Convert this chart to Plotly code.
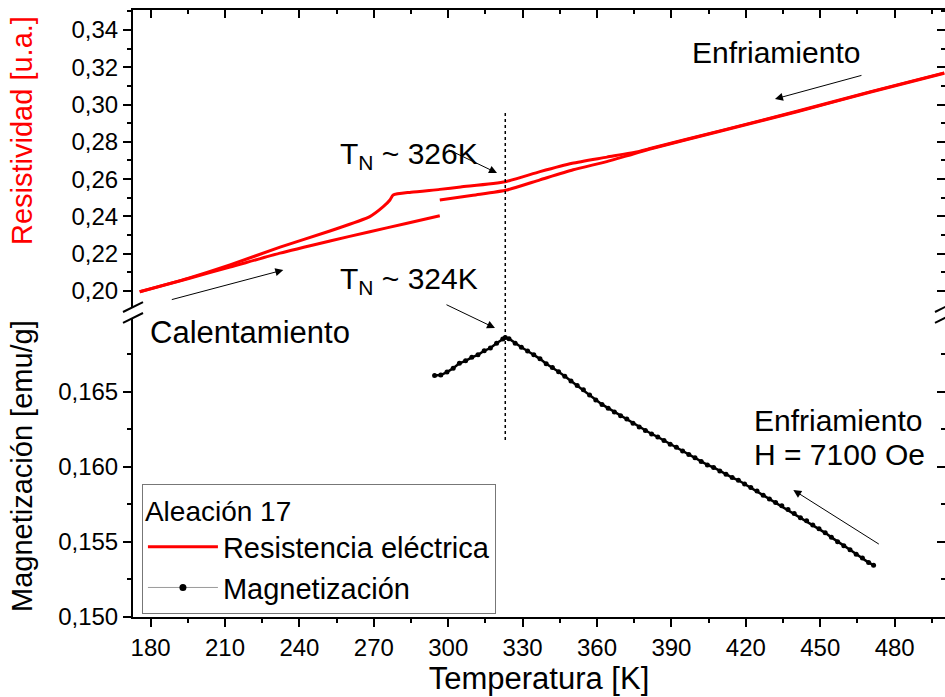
import plotly.graph_objects as go

# Resistivity, cooling run (high T -> low T)
T_cool = [500, 470, 441, 410, 381, 377, 364, 350, 337, 323, 305, 296.6, 285,
          277.8, 276.5, 273.8, 268.4, 252.3, 232.2, 212, 195, 175.6]
rho_cool = [0.3170, 0.3068, 0.2965, 0.2860, 0.2763, 0.2749, 0.2718, 0.2685,
            0.2640, 0.2586, 0.2558, 0.2545, 0.2530, 0.2515, 0.2488, 0.2452,
            0.2399, 0.2322, 0.2235, 0.2140, 0.2068, 0.1996]

# Resistivity, heating run: two segments separated by a small jump near 297 K
T_heat_a = [175.6, 195, 212, 232.2, 252.3, 268.4, 283, 296.6]
rho_heat_a = [0.1996, 0.2066, 0.2128, 0.2203, 0.2268, 0.2318, 0.2362, 0.2404]
T_heat_b = [296.6, 310, 323.7, 337, 350.4, 363.9, 372, 381, 410, 441, 470, 500]
rho_heat_b = [0.2488, 0.2514, 0.2542, 0.2596, 0.2650, 0.2694, 0.2725, 0.2760,
              0.2858, 0.2963, 0.3066, 0.3168]

# Magnetization on cooling, H = 7100 Oe
T_mag = [294.5, 297.0, 299.5, 302.0, 304.5, 307.0, 309.5, 312.0, 314.5, 317.0,
         319.5, 322.0, 323.0, 324.5, 327.0, 329.5, 332.0, 334.5, 337.0, 339.5,
         342.0, 344.5, 347.0, 349.5, 352.0, 354.5, 357.0, 359.5, 362.0, 364.5,
         367.0, 369.5, 372.0, 374.5, 377.0, 379.5, 382.0, 384.5, 387.0, 389.5,
         392.0, 394.5, 397.0, 399.5, 402.0, 404.5, 407.0, 409.5, 412.0, 414.5,
         417.0, 419.5, 422.0, 424.5, 427.0, 429.5, 432.0, 434.5, 437.0, 439.5,
         442.0, 444.5, 447.0, 449.5, 452.0, 454.5, 457.0, 459.5, 462.0, 464.5,
         467.0, 469.5, 471.5]
M_mag = [0.16608, 0.16610, 0.16630, 0.16655, 0.16688, 0.16705, 0.16728, 0.16745,
         0.16772, 0.16790, 0.16822, 0.16850, 0.16860, 0.16852, 0.16822, 0.16795,
         0.16770, 0.16745, 0.16718, 0.16685, 0.16660, 0.16632, 0.16602, 0.16570,
         0.16540, 0.16512, 0.16478, 0.16445, 0.16415, 0.16390, 0.16365, 0.16340,
         0.16318, 0.16290, 0.16265, 0.16242, 0.16218, 0.16198, 0.16175, 0.16150,
         0.16130, 0.16105, 0.16082, 0.16060, 0.16035, 0.16012, 0.15995, 0.15972,
         0.15950, 0.15928, 0.15910, 0.15885, 0.15862, 0.15838, 0.15810, 0.15785,
         0.15762, 0.15740, 0.15715, 0.15688, 0.15660, 0.15640, 0.15612, 0.15588,
         0.15560, 0.15530, 0.15500, 0.15475, 0.15448, 0.15418, 0.15392, 0.15362,
         0.15345]

T_neel = 323.0

FONT = "Liberation Sans, Arial, sans-serif"
RED = "#ff0000"

X_RANGE = [172.9, 500.3]
Y_LOW_RANGE = [0.150, 0.1699]
Y_UP_RANGE = [0.19142, 0.3507]
LOW_DOM = [0.0, 0.4926]
UP_DOM = [0.5107, 1.0]

fig = go.Figure()

fig.add_trace(go.Scatter(
    x=T_cool, y=rho_cool, xaxis="x", yaxis="y2", mode="lines",
    line=dict(color=RED, width=3, shape="spline", smoothing=0.6),
    name="Resistencia eléctrica", legendgroup="rho"))
fig.add_trace(go.Scatter(
    x=T_heat_a + [None] + T_heat_b, y=rho_heat_a + [None] + rho_heat_b,
    xaxis="x", yaxis="y2", mode="lines",
    line=dict(color=RED, width=3, shape="spline", smoothing=0.6),
    showlegend=False, legendgroup="rho"))
fig.add_trace(go.Scatter(
    x=T_mag, y=M_mag, xaxis="x", yaxis="y", mode="lines+markers",
    line=dict(color="black", width=2.5),
    marker=dict(color="black", size=5), showlegend=False,
    legendgroup="mag", name="Magnetización"))
# legend entry for the magnetization series (thin grey line with dot)
fig.add_trace(go.Scatter(
    x=[None], y=[None], xaxis="x", yaxis="y", mode="lines+markers",
    line=dict(color="#9a9a9a", width=1),
    marker=dict(color="black", size=7), name="Magnetización",
    legendgroup="mag"))

# empty traces so the mirrored frame axes get drawn
for xa, ya in (("x2", "y2"), ("x", "y3"), ("x", "y4")):
    fig.add_trace(go.Scatter(x=[], y=[], xaxis=xa, yaxis=ya,
                             showlegend=False, hoverinfo="skip"))

axis_common = dict(showline=True, linecolor="black", linewidth=2,
                   showgrid=False, zeroline=False, tickcolor="black",
                   tickwidth=2, tickfont=dict(family=FONT, size=24, color="black"))

fig.update_layout(
    width=945, height=697,
    margin=dict(l=133, r=0, t=10, b=80),
    paper_bgcolor="white", plot_bgcolor="white",
    separators=",.",
    font=dict(family=FONT, color="black"),
    xaxis=dict(domain=[0, 1], range=X_RANGE, anchor="y", ticks="outside",
               ticklen=8, tick0=180, dtick=30,
               minor=dict(ticks="outside", ticklen=4, tickwidth=2,
                          tickcolor="black", tick0=165, dtick=15),
               title=dict(text="Temperatura [K]",
                          font=dict(family=FONT, size=31), standoff=4),
               **axis_common),
    xaxis2=dict(overlaying="x", anchor="y2", side="top", range=X_RANGE,
                ticks="inside", ticklen=8, tick0=180, dtick=30,
                minor=dict(ticks="inside", ticklen=4, tickwidth=2,
                           tickcolor="black", tick0=165, dtick=15),
                showticklabels=False, **axis_common),
    yaxis=dict(domain=LOW_DOM, range=Y_LOW_RANGE, anchor="x", ticks="outside",
               ticklen=8, tick0=0.150, dtick=0.005, tickformat=".3f",
               minor=dict(ticks="outside", ticklen=4, tickwidth=2,
                          tickcolor="black", dtick=0.0025),
               **axis_common),
    yaxis2=dict(domain=UP_DOM, range=Y_UP_RANGE, anchor="x", ticks="outside",
                ticklen=8, tick0=0.20, dtick=0.02, tickformat=".2f",
                minor=dict(ticks="outside", ticklen=4, tickwidth=2,
                           tickcolor="black", dtick=0.01),
                **axis_common),
    yaxis3=dict(overlaying="y", side="right", anchor="x", range=Y_LOW_RANGE,
                ticks="inside", ticklen=8, tick0=0.150, dtick=0.005,
                minor=dict(ticks="inside", ticklen=4, tickwidth=2,
                           tickcolor="black", dtick=0.0025),
                showticklabels=False, **axis_common),
    yaxis4=dict(overlaying="y2", side="right", anchor="x", range=Y_UP_RANGE,
                ticks="inside", ticklen=8, tick0=0.20, dtick=0.02,
                minor=dict(ticks="inside", ticklen=4, tickwidth=2,
                           tickcolor="black", dtick=0.01),
                showticklabels=False, **axis_common),
    legend=dict(x=0.011, y=0.112, xanchor="left", yanchor="middle",
                bgcolor="white", bordercolor="#777", borderwidth=1,
                font=dict(family=FONT, size=29, color="black"),
                title=dict(text="Aleación 17",
                           font=dict(family=FONT, size=28, color="black")),
                tracegroupgap=0, itemwidth=70),
    showlegend=True,
)

# axis titles on the left
fig.add_annotation(text="Resistividad [u.a.]", xref="paper", yref="paper",
                   x=0, y=0.8007, xshift=-111, xanchor="center", yanchor="middle",
                   textangle=-90, showarrow=False,
                   font=dict(family=FONT, size=29, color=RED))
fig.add_annotation(text="Magnetización [emu/g]", xref="paper", yref="paper",
                   x=0, y=0.2488, xshift=-111, xanchor="center", yanchor="middle",
                   textangle=-90, showarrow=False,
                   font=dict(family=FONT, size=29, color="black"))

# Neel temperature marker
fig.add_shape(type="line", xref="x", yref="paper", x0=T_neel, x1=T_neel,
              y0=0.2916, y1=0.8353, line=dict(color="black", width=1.5, dash="3px,3px"))

# axis break marks
for xc in (0.0, 1.0):
    for yc in (0.5107, 0.4926):
        fig.add_shape(type="line", xref="paper", yref="paper",
                      x0=xc - 0.0123, x1=xc + 0.0123,
                      y0=yc - 0.0082, y1=yc + 0.0082,
                      line=dict(color="black", width=2))

texts = [
    ("T<sub>N</sub> ~ 326K", 0.2525, 0.761, 30),
    ("T<sub>N</sub> ~ 324K", 0.2525, 0.555, 30),
    ("Enfriamiento", 0.686, 0.9308, 30),
    ("Calentamiento", 0.019, 0.4695, 31),
    ("Enfriamiento", 0.7623, 0.3245, 30),
    ("H = 7100 Oe", 0.7623, 0.2669, 30),
]
for txt, xp, yp, fs in texts:
    fig.add_annotation(text=txt, xref="paper", yref="paper", x=xp, y=yp,
                       xanchor="left", yanchor="middle", showarrow=False,
                       font=dict(family=FONT, size=fs, color="black"))

arrows = [
    (0.4483, 0.7315, -50, -24),
    (0.4458, 0.4761, -50, -24),
    (0.7906, 0.8534, 88, -24),
    (0.1851, 0.5717, -113, 30),
    (0.8132, 0.2092, 87, 55),
]
for xp, yp, ax, ay in arrows:
    fig.add_annotation(text="", xref="paper", yref="paper", x=xp, y=yp,
                       ax=ax, ay=ay, showarrow=True, arrowhead=2,
                       arrowsize=1.6, arrowwidth=1, arrowcolor="black",
                       standoff=0)

fig.write_html("out.html")
